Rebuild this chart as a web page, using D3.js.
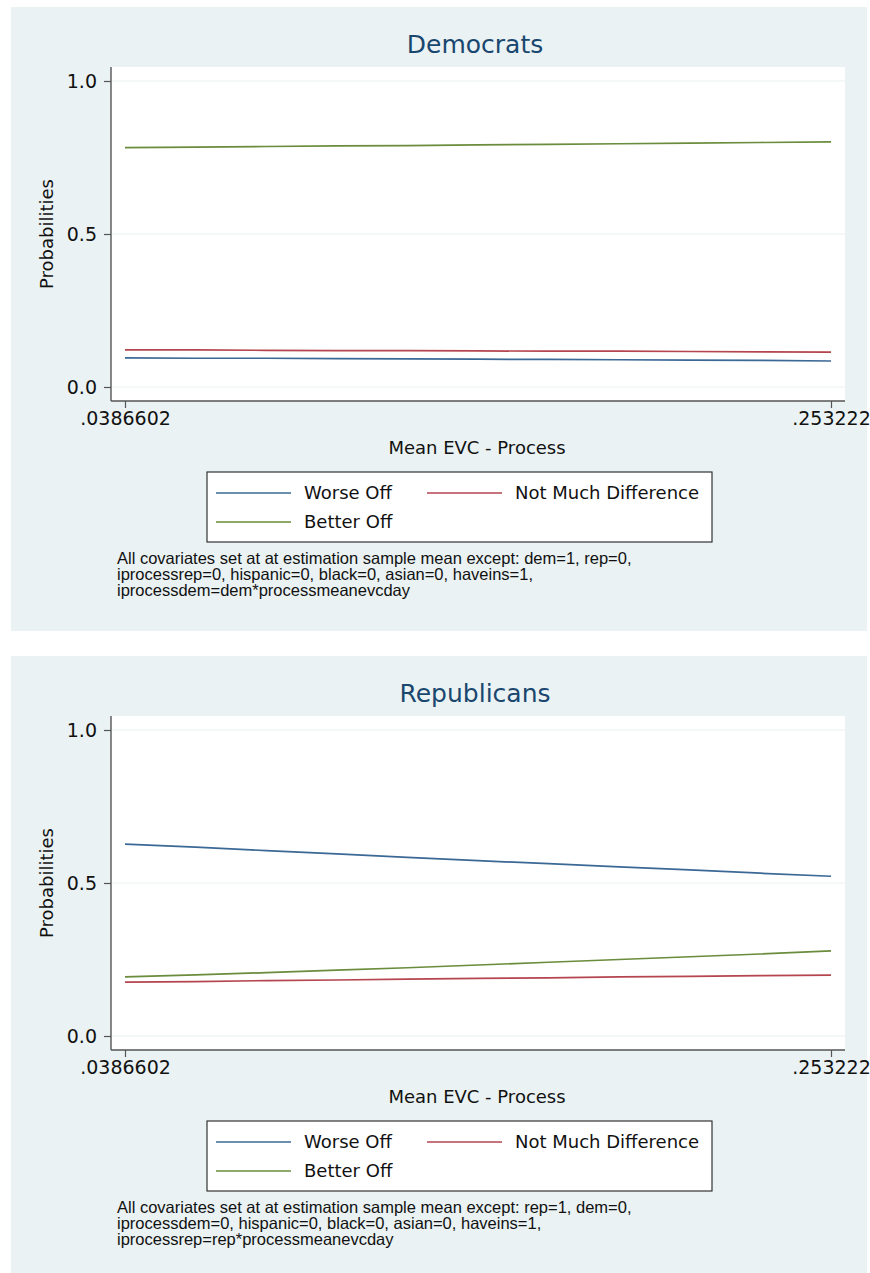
<!DOCTYPE html>
<html>
<head>
<meta charset="utf-8">
<script src="https://cdn.jsdelivr.net/npm/d3@7"></script>
<style>
  body { margin: 0; background: #fff; }
  svg text { font-family: "DejaVu Sans", sans-serif; fill: #111; }
  .note { font-family: "Liberation Sans", Arial, sans-serif; }
</style>
</head>
<body>
<svg id="chart" width="870" height="1273"></svg>
<script>
// x grid (Mean EVC - Process)
const xVals = [0.0386602, 0.0601164, 0.0815726, 0.1030288, 0.124485, 0.1459412,
  0.1673974, 0.1888536, 0.2103098, 0.231766, 0.253222]
const xTickVals = [0.0386602, 0.253222]
const xTickLabels = [".0386602", ".253222"]
const yTickVals = [0, 0.5, 1]
const seriesNames = ["Worse Off", "Not Much Difference", "Better Off"]

// Democrats
const demWorse = [0.095, 0.094, 0.094, 0.093, 0.092, 0.091, 0.090, 0.089, 0.088, 0.087, 0.085]
const demNoDiff = [0.121, 0.121, 0.120, 0.119, 0.119, 0.118, 0.117, 0.117, 0.116, 0.115, 0.114]
const demBetter = [0.782, 0.784, 0.786, 0.788, 0.789, 0.791, 0.793, 0.795, 0.797, 0.799, 0.801]

// Republicans
const repWorse = [0.627, 0.617, 0.606, 0.595, 0.584, 0.573, 0.563, 0.553, 0.543, 0.532, 0.522]
const repNoDiff = [0.176, 0.178, 0.181, 0.183, 0.186, 0.188, 0.190, 0.193, 0.195, 0.197, 0.199]
const repBetter = [0.193, 0.200, 0.207, 0.215, 0.223, 0.232, 0.241, 0.250, 0.259, 0.268, 0.278]

const demNotes = [
  "All covariates set at at estimation sample mean except: dem=1, rep=0,",
  "iprocessrep=0, hispanic=0, black=0, asian=0, haveins=1,",
  "iprocessdem=dem*processmeanevcday"
]
const repNotes = [
  "All covariates set at at estimation sample mean except: rep=1, dem=0,",
  "iprocessdem=0, hispanic=0, black=0, asian=0, haveins=1,",
  "iprocessrep=rep*processmeanevcday"
]

const colors = ["#3b6895", "#b5454f", "#6a8c3c"]

const svg = d3.select("#chart")

function drawPanel(top, title, series, notes) {
  const g = svg.append("g").attr("transform", `translate(0, ${top})`)

  g.append("rect")
    .attr("x", 11).attr("y", 0)
    .attr("width", 856).attr("height", 624)
    .attr("fill", "#eaf2f3")

  const plot = {left: 111, right: 845, top: 60, bottom: 394}
  g.append("rect")
    .attr("x", plot.left).attr("y", plot.top)
    .attr("width", plot.right - plot.left).attr("height", plot.bottom - plot.top)
    .attr("fill", "#fff")

  const x = d3.scaleLinear().domain([xTickVals[0], xTickVals[1]]).range([125, 831])
  const y = d3.scaleLinear().domain([0, 1]).range([380, 74])

  // gridlines
  g.append("g")
    .selectAll("line")
    .data(yTickVals)
    .join("line")
    .attr("x1", plot.left + 1).attr("x2", plot.right)
    .attr("y1", d => y(d)).attr("y2", d => y(d))
    .attr("stroke", "#eaf2f3").attr("stroke-width", 1.2)

  // series lines
  const line = d3.line().x((d, i) => x(xVals[i])).y(d => y(d))
  g.append("g")
    .selectAll("path")
    .data(series)
    .join("path")
    .attr("d", d => line(d))
    .attr("fill", "none")
    .attr("stroke", (d, i) => colors[i])
    .attr("stroke-width", 1.7)

  // axes
  const yAxis = g.append("g")
    .attr("transform", `translate(${plot.left}, 0)`)
    .call(d3.axisLeft(y).tickValues(yTickVals).tickFormat(d3.format(".1f")).tickSize(7).tickPadding(7))
  yAxis.select(".domain").attr("d", `M0,${plot.top}V${plot.bottom}`)

  const xAxis = g.append("g")
    .attr("transform", `translate(0, ${plot.bottom})`)
    .call(d3.axisBottom(x).tickValues(xTickVals).tickFormat((d, i) => xTickLabels[i]).tickSize(7).tickPadding(4))
  xAxis.select(".domain").attr("d", `M${plot.left},0H${plot.right}`)

  g.selectAll(".domain").attr("stroke", "#555").attr("stroke-width", 1.4)
  g.selectAll(".tick line").attr("stroke", "#555").attr("stroke-width", 1.2)
  g.selectAll(".tick text")
    .attr("font-size", 19).attr("fill", "#111")
    .style("font-family", "DejaVu Sans, sans-serif")

  // titles
  g.append("text")
    .attr("x", 475).attr("y", 46)
    .attr("text-anchor", "middle")
    .attr("font-size", 25)
    .style("fill", "#1a476f")
    .text(title)

  g.append("text")
    .attr("transform", `translate(53, ${y(0.5)}) rotate(-90)`)
    .attr("text-anchor", "middle")
    .attr("font-size", 18)
    .text("Probabilities")

  g.append("text")
    .attr("x", 477).attr("y", 447)
    .attr("text-anchor", "middle")
    .attr("font-size", 18)
    .text("Mean EVC - Process")

  // legend
  const lg = g.append("g").attr("transform", "translate(207, 465)")
  lg.append("rect")
    .attr("width", 505).attr("height", 70)
    .attr("fill", "#fff").attr("stroke", "#333").attr("stroke-width", 1.2)

  const legendPos = [[0, 0], [211, 0], [0, 29]]
  const items = lg.selectAll("g.item")
    .data(seriesNames)
    .join("g")
    .attr("class", "item")
    .attr("transform", (d, i) => `translate(${legendPos[i][0]}, ${legendPos[i][1] + 21})`)
  items.append("line")
    .attr("x1", 9).attr("x2", 84)
    .attr("stroke", (d, i) => colors[i]).attr("stroke-width", 1.6)
  items.append("text")
    .attr("x", 97).attr("dy", "0.36em")
    .attr("font-size", 18)
    .text(d => d)

  // notes
  g.append("g")
    .selectAll("text")
    .data(notes)
    .join("text")
    .attr("class", "note")
    .attr("x", 117).attr("y", (d, i) => 557 + i * 16)
    .attr("font-size", 16.5)
    .text(d => d)
}

drawPanel(7, "Democrats", [demWorse, demNoDiff, demBetter], demNotes)
drawPanel(656, "Republicans", [repWorse, repNoDiff, repBetter], repNotes)
</script>
</body>
</html>
